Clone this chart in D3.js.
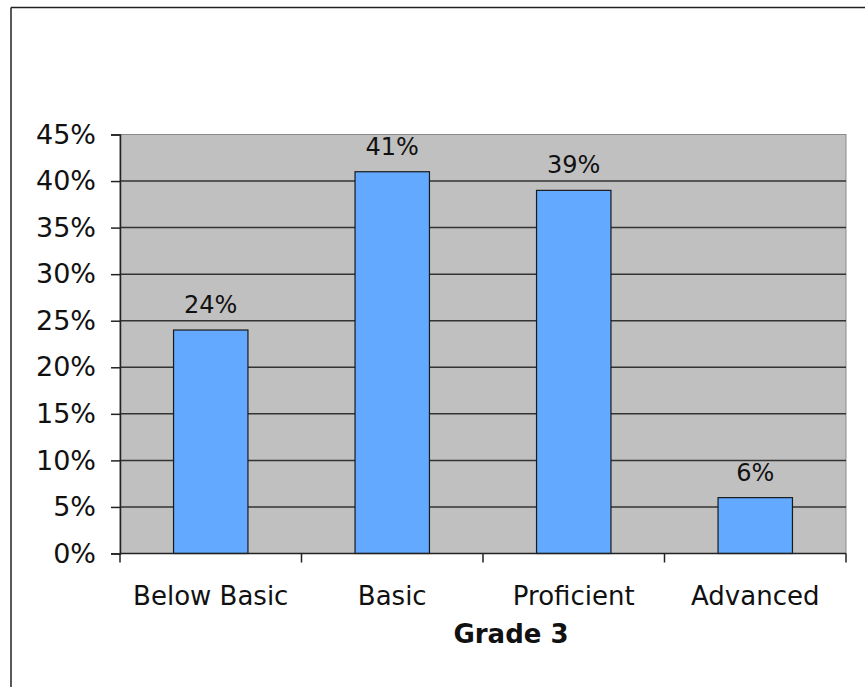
<!DOCTYPE html>
<html>
<head>
<meta charset="utf-8">
<script src="https://cdn.jsdelivr.net/npm/d3@7"></script>
<style>
  html, body { margin: 0; padding: 0; background: #fff; }
  svg { display: block; font-family: "DejaVu Sans", Verdana, sans-serif; }
</style>
</head>
<body>
<svg id="chart" width="865" height="687"></svg>
<script>
// Share of grade 3 students at each performance level
const categories = ["Below Basic", "Basic", "Proficient", "Advanced"];
const percents = [24, 41, 39, 6];
const yTicks = [0, 5, 10, 15, 20, 25, 30, 35, 40, 45];
const axisTitle = "Grade 3";

const svg = d3.select("#chart");
const W = 865, H = 687;
const plot = { left: 120, right: 846, top: 134.5, bottom: 553.5 };

// outer chart frame (top and left edges visible)
svg.append("line").attr("x1", 11).attr("x2", W).attr("y1", 7.5).attr("y2", 7.5)
  .attr("stroke", "#222").attr("stroke-width", 1.5);
svg.append("line").attr("x1", 11).attr("x2", 11).attr("y1", 7.5).attr("y2", H)
  .attr("stroke", "#222").attr("stroke-width", 1.5);

const x = d3.scaleBand().domain(categories).range([plot.left, plot.right])
  .paddingInner(0.59).paddingOuter(0.295);
const y = d3.scaleLinear().domain([0, 45]).range([plot.bottom, plot.top]);

// plot area background
svg.append("rect")
  .attr("x", plot.left).attr("y", plot.top)
  .attr("width", plot.right - plot.left).attr("height", plot.bottom - plot.top)
  .attr("fill", "#C0C0C0").attr("stroke", "#8a8a8a").attr("stroke-width", 1);

// horizontal gridlines
svg.append("g").selectAll("line")
  .data(yTicks.filter(d => d > 0 && d < 45))
  .join("line")
  .attr("x1", plot.left).attr("x2", plot.right)
  .attr("y1", d => y(d)).attr("y2", d => y(d))
  .attr("stroke", "#333").attr("stroke-width", 1.5);

// bars
svg.append("g").selectAll("rect")
  .data(categories)
  .join("rect")
  .attr("x", d => x(d))
  .attr("width", x.bandwidth())
  .attr("y", (d, i) => y(percents[i]))
  .attr("height", (d, i) => y(0) - y(percents[i]))
  .attr("fill", "#63A9FF")
  .attr("stroke", "#1a1a1a").attr("stroke-width", 1.2);

// value labels above bars
svg.append("g").selectAll("text")
  .data(categories)
  .join("text")
  .attr("x", d => x(d) + x.bandwidth() / 2)
  .attr("y", (d, i) => y(percents[i]) - 17)
  .attr("text-anchor", "middle")
  .attr("font-size", 24)
  .attr("fill", "#111")
  .text((d, i) => percents[i] + "%");

// y axis
const yAxis = d3.axisLeft(y).tickValues(yTicks).tickSize(9).tickPadding(15)
  .tickFormat(d => d + "%");
const gy = svg.append("g").attr("transform", `translate(${plot.left},0)`).call(yAxis);
gy.select(".domain").attr("stroke", "#222").attr("stroke-width", 1.5);
gy.selectAll(".tick line").attr("stroke", "#222").attr("stroke-width", 1.5);
gy.selectAll(".tick text").attr("font-size", 27).attr("fill", "#111")
  .attr("font-family", "DejaVu Sans, Verdana, sans-serif");

// x axis with ticks at category boundaries
const bounds = d3.range(categories.length + 1).map(i => plot.left + i * (plot.right - plot.left) / categories.length);
const gx = svg.append("g");
gx.append("line").attr("x1", plot.left).attr("x2", plot.right)
  .attr("y1", plot.bottom).attr("y2", plot.bottom)
  .attr("stroke", "#222").attr("stroke-width", 1.5);
gx.selectAll(".bt").data(bounds).join("line").attr("class", "bt")
  .attr("x1", d => d).attr("x2", d => d)
  .attr("y1", plot.bottom).attr("y2", plot.bottom + 9)
  .attr("stroke", "#222").attr("stroke-width", 1.5);
gx.selectAll("text").data(categories).join("text")
  .attr("x", d => x(d) + x.bandwidth() / 2)
  .attr("y", 605)
  .attr("text-anchor", "middle")
  .attr("font-size", 26)
  .attr("fill", "#111")
  .text(d => d);

// axis title
svg.append("text")
  .attr("x", 511).attr("y", 643)
  .attr("text-anchor", "middle")
  .attr("font-size", 26).attr("font-weight", "bold")
  .attr("fill", "#111")
  .text(axisTitle);
</script>
</body>
</html>
